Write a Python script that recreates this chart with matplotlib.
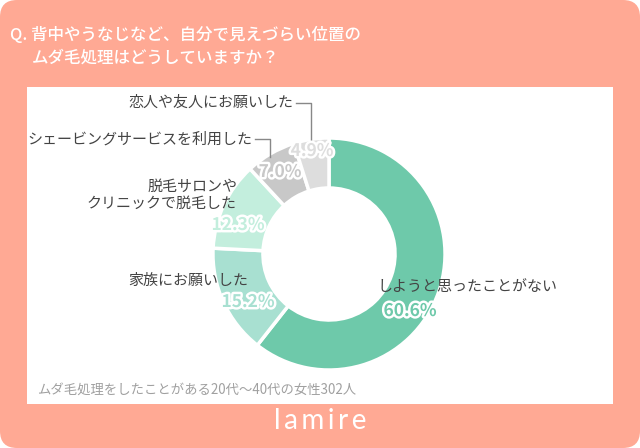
import matplotlib
matplotlib.use("Agg")
import matplotlib.pyplot as plt
import matplotlib.patheffects as pe
from matplotlib.patches import FancyBboxPatch, Rectangle
from matplotlib.lines import Line2D

plt.rcParams['font.family'] = ['Noto Sans CJK JP', 'DejaVu Sans']

# data
categories = ['しようと思ったことがない', '家族にお願いした', '脱毛サロンや\nクリニックで脱毛した',
              'シェービングサービスを利用した', '恋人や友人にお願いした']
values = [60.6, 15.2, 12.3, 7.0, 4.9]
colors = ['#6EC9AA', '#A8E0D1', '#C3EEDD', '#C8C8C8', '#DDDDDD']
title_lines = ['Q. 背中やうなじなど、自分で見えづらい位置の', 'ムダ毛処理はどうしていますか？']
note = 'ムダ毛処理をしたことがある20代〜40代の女性302人'
brand = 'lamire'

W, H = 640, 448
SALMON = '#FFA994'

# pixel positions (top-left origin) for labels
cat_pos = [(377, 287, 'left'), (248, 281, 'right'), (237, 195, 'right'),
           (252, 139, 'right'), (293, 103, 'right')]
pct_pos = [(410, 311), (248, 302), (238, 225), (280, 172), (312, 151)]
leaders = [None, None, None,
           [(255, 139), (270, 139), (270, 157)],
           [(296, 103), (311, 103), (311, 147)]]

fig = plt.figure(figsize=(W / 100, H / 100), dpi=100)
fig.patch.set_facecolor('white')

# background layer
bg = fig.add_axes([0, 0, 1, 1], zorder=0)
bg.set_xlim(0, W)
bg.set_ylim(H, 0)
bg.axis('off')
bg.add_patch(FancyBboxPatch((0, 0), W, H, boxstyle='round,pad=0,rounding_size=17',
                            facecolor=SALMON, edgecolor='none'))
bg.add_patch(Rectangle((27, 87), 586, 317, facecolor='white', edgecolor='none'))

# donut
cx, cy, R = 329, 254, 116
half = 150
pie_ax = fig.add_axes([(cx - half) / W, (H - cy - half) / H, 2 * half / W, 2 * half / H], zorder=1)
pie_ax.pie(values, colors=colors, startangle=90, counterclock=False, radius=R,
           explode=[0.045] * len(values),
           wedgeprops=dict(width=50, edgecolor='white', linewidth=2.5))
pie_ax.set_xlim(-half, half)
pie_ax.set_ylim(-half, half)
pie_ax.axis('off')


def fx(x):
    return x / W


def fy(y):
    return 1 - y / H


# title
fig.text(fx(10), fy(35), title_lines[0], color='white', fontsize=11.9, va='center', ha='left',
         fontweight='medium')
fig.text(fx(32), fy(58), title_lines[1], color='white', fontsize=11.9, va='center', ha='left',
         fontweight='medium')

# category labels and percentages
for i, (cat, val) in enumerate(zip(categories, values)):
    x, y, ha = cat_pos[i]
    fig.text(fx(x), fy(y), cat, color='#444444', fontsize=10.8, ha=ha, va='center',
             linespacing=1.25)
    px, py = pct_pos[i]
    fig.text(fx(px), fy(py), f'{val:.1f}%', color=colors[i], fontsize=12.5, fontweight='bold',
             ha='center', va='center',
             path_effects=[pe.withStroke(linewidth=3.5, foreground='white')])
    if leaders[i]:
        xs = [fx(p[0]) for p in leaders[i]]
        ys = [fy(p[1]) for p in leaders[i]]
        fig.add_artist(Line2D(xs, ys, color='#888888', linewidth=1))

# note
fig.text(fx(37), fy(390), note, color='#A0A0A0', fontsize=9.6, ha='left', va='center')

# brand, letter-spaced with thin spaces
fig.text(fx(320), fy(421), '\u2009'.join(brand), color='white', fontsize=20, ha='center',
         va='center', family=['Lato', 'DejaVu Sans'], fontweight='normal')

fig.savefig('out.png', dpi=100, facecolor='white')
